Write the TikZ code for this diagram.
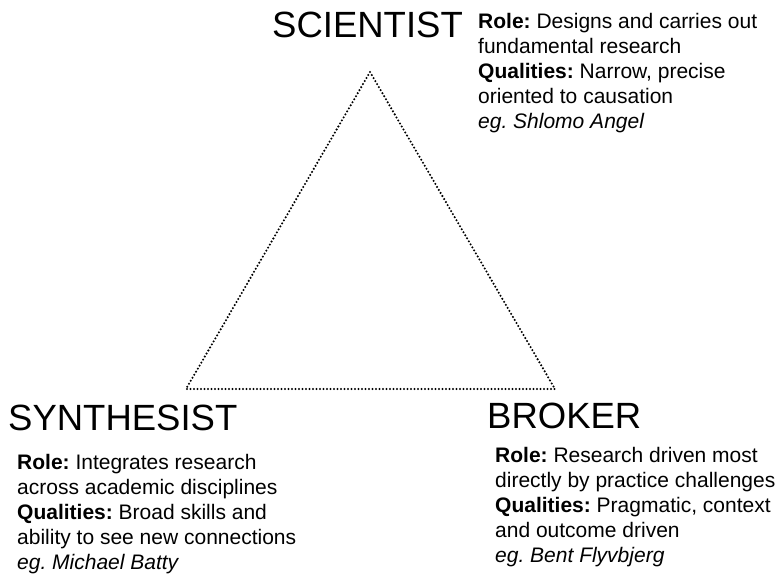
\documentclass[tikz,border=0pt]{standalone}
\usepackage{fontspec}
\setmainfont{Liberation Sans}
\frenchspacing
\begin{document}
\begin{tikzpicture}[x=1pt,y=-1pt,
  title/.style={inner sep=0pt,anchor=base west,font=\fontsize{36.5}{40}\selectfont},
  desc/.style={inner sep=0pt,anchor=base west,align=left,font=\fontsize{21}{25}\selectfont\frenchspacing},
  edge/.style={line width=2.3pt,dash pattern=on 0pt off 3.5pt,line cap=round}]
\useasboundingbox (0,0) rectangle (778,581);
\coordinate (top) at (370,72);
\coordinate (bl) at (186,389);
\coordinate (br) at (555,389);
\draw[edge] (top) -- (bl) -- (br) -- cycle;
\node[title] (sci) at (272,37) {SCIENTIST};
\node[desc] (scitext) at (478,128) {\textbf{Role:} Designs and carries out\\fundamental research\\\textbf{Qualities:} Narrow, precise\\oriented to causation\\\textit{eg. Shlomo Angel}};
\node[title] (syn) at (8,430) {SYNTHESIST};
\node[desc] (syntext) at (17,569) {\textbf{Role:} Integrates research\\across academic disciplines\\\textbf{Qualities:} Broad skills and\\ability to see new connections\\\textit{eg. Michael Batty}};
\node[title] (bro) at (487,428) {BROKER};
\node[desc] (brotext) at (495,562) {\textbf{Role:} Research driven most\\directly by practice challenges\\\textbf{Qualities:} Pragmatic, context\\and outcome driven\\\textit{eg. Bent Flyvbjerg}};
\end{tikzpicture}
\end{document}
